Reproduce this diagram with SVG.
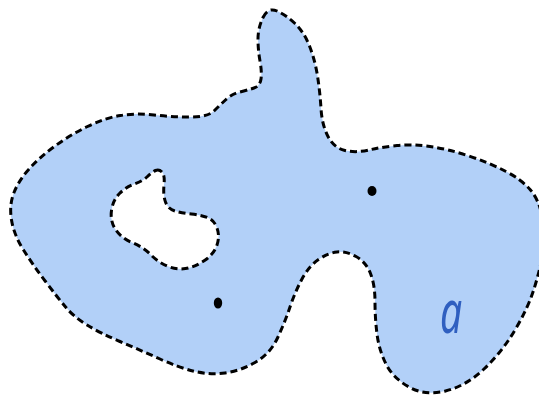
<svg xmlns="http://www.w3.org/2000/svg" width="539" height="396" viewBox="0 0 539 396">
  <style>
    .region { fill: #b2d0f8; fill-rule: evenodd; stroke: #000; stroke-width: 3; stroke-dasharray: 7 4; stroke-linejoin: round; }
    .dot { fill: #000; }
    .label { font-family: "Noto Sans", "DejaVu Sans", sans-serif; font-style: italic; font-size: 60px; fill: #2f5fc0; }
  </style>
  <rect width="539" height="396" fill="#fff"/>
  <g id="region-a">
    <path class="region" d="M263,17.5 Q268,7 277,11 Q286,15 295,23.5 Q304,32 309.5,46 Q315,60 317.5,76 Q320,92 321,108.5 Q322,125 328,136.5 Q334,148 345,150.5 Q356,153 369,150 Q382,147 397,145.5 Q412,144 430,146.5 Q448,149 469,156 Q490,163 506,171.5 Q522,180 530.5,190 Q539,200 542.5,217.5 Q546,235 543,252.5 Q540,270 534,289 Q528,308 515,330 Q502,352 484,369 Q466,386 445.5,391 Q425,396 409,387 Q393,378 386,364 Q379,350 377,334 Q375,318 375,301.5 Q375,285 370.5,273.5 Q366,262 356,256.5 Q346,251 337,252 Q328,253 318.5,259.5 Q309,266 302,279 Q295,292 290,307 Q285,322 277.5,338 Q270,354 255,362.5 Q240,371 225,373 Q210,375 195,371.5 Q180,368 160,359 Q140,350 120,341.5 Q100,333 87,325 Q74,317 66,307.5 Q58,298 45.5,281.5 Q33,265 23.5,250 Q14,235 11.5,220 Q9,205 14,192.5 Q19,180 29.5,168.5 Q40,157 55,146 Q70,135 87.5,126.5 Q105,118 120.5,115.5 Q136,113 154,115 Q172,117 190,117 Q208,117 214,111 Q220,105 226,99.5 Q232,94 240,92 Q248,90 254,88 Q260,86 261,79 Q262,72 260,61 Q258,50 258,39 Q258,28 263,17.5 Z
    M155.5,170.5 Q159,169 162,172 Q165,175 164,185 Q163,195 165.5,202 Q168,209 175,211 Q182,213 191.5,214 Q201,215 207.5,217.5 Q214,220 217,228 Q220,236 217,245 Q214,254 204.5,260.5 Q195,267 185.5,268.5 Q176,270 167,266 Q158,262 150.5,254.5 Q143,247 132,242.5 Q121,238 115.5,229.5 Q110,221 111.5,210.5 Q113,200 119.5,193.5 Q126,187 134.5,184 Q143,181 147.5,176.5 Q152,172 155.5,170.5 Z"/>
  </g>
  <g id="points">
    <ellipse class="dot" cx="372" cy="191" rx="4.5" ry="5"/>
    <ellipse class="dot" cx="218" cy="303" rx="4.2" ry="5.5"/>
  </g>
  <g id="label-a">
    <text class="label" transform="translate(440,333) scale(0.65,1)">a</text>
  </g>
</svg>
